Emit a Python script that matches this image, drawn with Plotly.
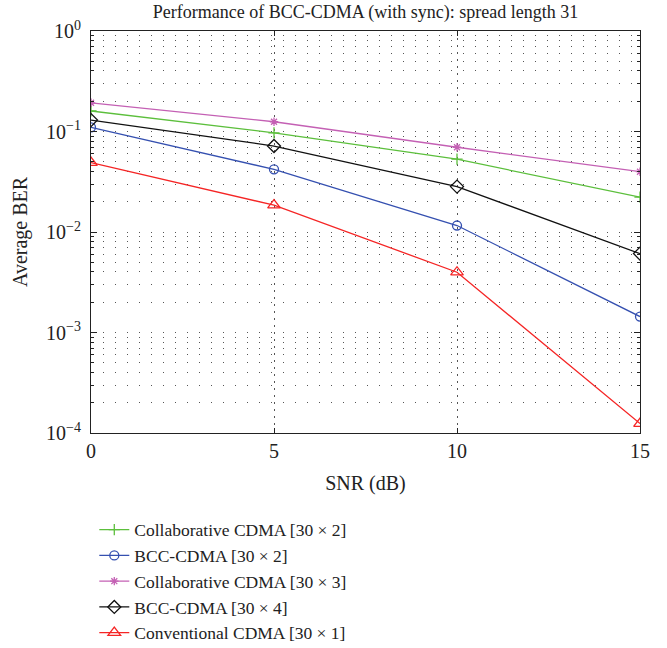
import plotly.graph_objects as go

snr = [0, 5, 10, 15]
names = [
    "Collaborative CDMA [30 × 2]",
    "BCC-CDMA [30 × 2]",
    "Collaborative CDMA [30 × 3]",
    "BCC-CDMA [30 × 4]",
    "Conventional CDMA [30 × 1]",
]
collab_30x2 = [0.160, 0.097, 0.053, 0.0222]
bcc_30x2 = [0.110, 0.042, 0.0116, 0.00144]
collab_30x3 = [0.193, 0.125, 0.0697, 0.0398]
bcc_30x4 = [0.130, 0.0717, 0.0283, 0.0061]
conv_30x1 = [0.049, 0.0185, 0.00398, 0.000124]

series = [collab_30x2, bcc_30x2, collab_30x3, bcc_30x4, conv_30x1]
colors = ["#5cbf3c", "#3550b0", "#c460b4", "#111111", "#f52525"]
symbols = ["cross-thin-open", "circle-open", "asterisk-open", "diamond-open", "triangle-up-open"]
sizes = [8, 9, 7, 10, 11]

xticks = [0, 5, 10, 15]
ymajor = [1e-4, 1e-3, 1e-2, 1e-1, 1e0]
ymajor_text = ["10<sup>−4</sup>", "10<sup>−3</sup>", "10<sup>−2</sup>", "10<sup>−1</sup>", "10<sup>0</sup>"]
yminor = [m * 10.0 ** e for e in range(-4, 0) for m in range(2, 10)]

FONT = "Liberation Serif"
TXT = "#222"

fig = go.Figure()
for i, (name, ys) in enumerate(zip(names, series)):
    fig.add_trace(go.Scatter(
        x=snr, y=ys, name=name, mode="lines+markers",
        line=dict(color=colors[i], width=1.3),
        marker=dict(symbol=symbols[i], size=sizes[i], color=colors[i],
                    line=dict(color=colors[i], width=1.3)),
        legendgroup=str(i),
    ))

fig.update_layout(
    width=667, height=648,
    margin=dict(l=91, r=27, t=31, b=215, autoexpand=False),
    paper_bgcolor="white", plot_bgcolor="white",
    font=dict(family=FONT, size=19, color=TXT),
    title=dict(text="Performance of BCC-CDMA (with sync): spread length 31",
               x=0.5, xanchor="center", xref="paper", y=0.982, yanchor="middle",
               font=dict(family=FONT, size=18, color=TXT)),
    showlegend=True,
    legend=dict(x=0.006, xanchor="left", y=-0.196, yanchor="top",
                bgcolor="rgba(0,0,0,0)", borderwidth=0,
                font=dict(family=FONT, size=17.5, color=TXT),
                tracegroupgap=0, itemwidth=30),
)
fig.update_xaxes(
    range=[0, 15], tickvals=xticks, ticktext=[str(v) for v in xticks],
    ticks="inside", ticklen=5, tickcolor=TXT, automargin=False,
    showline=True, linecolor=TXT, linewidth=1.2, mirror="ticks",
    showgrid=True, gridcolor="#555", gridwidth=1, griddash="2px,5px",
    zeroline=False,
    title=dict(text="SNR (dB)", font=dict(family=FONT, size=20, color=TXT), standoff=14),
    tickfont=dict(family=FONT, size=20, color=TXT),
)
fig.update_yaxes(
    type="log", range=[-4, 0], tickvals=ymajor, ticktext=ymajor_text,
    ticks="inside", ticklen=6, tickcolor=TXT, automargin=False,
    showline=True, linecolor=TXT, linewidth=1.2, mirror="ticks",
    showgrid=True, gridcolor="#555", gridwidth=1, griddash="1px,11px",
    zeroline=False, ticklabelstandoff=5,
    minor=dict(tickmode="array", tickvals=yminor, ticks="inside", ticklen=3,
               tickcolor=TXT, showgrid=True, gridcolor="#555",
               gridwidth=1, griddash="1px,11px"),
    title=dict(text="Average BER", font=dict(family=FONT, size=20, color=TXT), standoff=12),
    tickfont=dict(family=FONT, size=20, color=TXT),
)

fig.write_html("out.html", config={"displayModeBar": False},
               post_script="document.body.style.margin='0';document.body.style.padding='0';")
